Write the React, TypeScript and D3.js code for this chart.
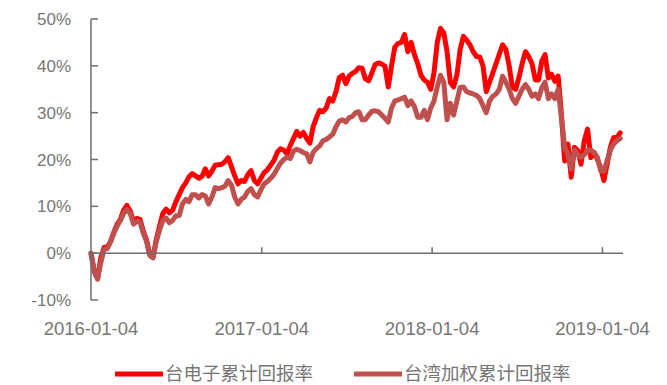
import React from "react";
import * as d3 from "d3";

const startDate = "2016-01-04";
const endDate = "2019-02-17";
const tickDates = ["2016-01-04", "2017-01-04", "2018-01-04", "2019-01-04"];
const yTicks = [-10, 0, 10, 20, 30, 40, 50];
const seriesNames = ["台电子累计回报率", "台湾加权累计回报率"];

// weekly cumulative returns (%)
const electronics = [
  0, -3.8, -5.5, -1.0, 1.2, 1.3, 2.5, 4.5, 6.2, 7.2, 9.2, 10.2, 9.0, 6.8, 7.4, 7.2, 4.7, 2.8, -0.3, -0.8,
  3.0, 5.8, 8.5, 9.4, 8.6, 9.2, 11.0, 12.5, 14.0, 15.0, 16.3, 17.0, 16.5, 16.0, 16.4, 18.0, 16.5, 17.5, 18.8, 18.9,
  19.0, 19.5, 20.4, 18.5, 16.5, 14.8, 15.5, 15.3, 16.8, 17.6, 15.5, 14.8, 16.0, 17.2, 17.8, 18.8, 19.8, 21.5, 22.3, 22.0,
  21.2, 23.0, 24.5, 26.0, 25.0, 25.8, 24.5, 23.5, 27.0, 28.9, 30.5, 30.2, 31.0, 33.0, 32.5, 34.5, 37.5, 38.0, 36.2, 37.8,
  38.4, 38.8, 39.6, 39.5, 37.2, 36.8, 38.5, 40.3, 40.6, 40.4, 39.9, 35.5, 40.0, 44.0, 44.8, 45.0, 46.7, 43.0, 45.0, 42.4,
  40.5, 38.0, 37.0, 36.5, 35.0, 38.5, 45.0, 48.0, 47.0, 43.0, 36.5, 35.5, 38.0, 43.5, 46.3, 45.5, 44.5, 43.0, 42.0, 41.9,
  40.0, 34.5, 36.5, 38.5, 40.5, 42.5, 44.5, 43.5, 40.0, 35.4, 35.0, 37.5, 40.5, 43.0, 42.0, 40.5, 37.0, 37.0, 41.0, 42.4,
  37.4, 38.2, 36.7, 37.8, 29.7, 19.7, 23.3, 16.2, 22.6, 21.9, 19.0, 24.0, 26.5, 20.4, 21.5, 20.1, 18.3, 15.5, 19.0, 22.6,
  24.7, 24.7, 25.7,
];

const taiex = [
  0, -4.0, -5.5, -2.0, 0.8, 1.0, 2.5, 4.3, 5.8, 7.0, 8.5, 9.3, 8.5, 6.2, 6.8, 6.6, 4.3, 2.5, -0.5, -1.0,
  2.5, 5.0, 7.0, 7.5, 6.5, 7.0, 8.0, 8.0, 10.5, 11.5, 11.0, 12.5, 12.5, 11.8, 12.5, 12.2, 10.5, 12.0, 14.0, 13.8,
  14.0, 14.3, 15.5, 14.5, 12.0, 10.5, 11.5, 12.0, 13.2, 13.8, 12.5, 12.0, 13.5, 14.8, 15.3, 16.0, 16.8, 18.0, 19.2, 20.0,
  20.5, 20.2, 21.8, 22.2, 21.9, 21.5, 21.2, 19.5, 21.5, 22.3, 22.9, 24.0, 24.3, 24.8, 25.4, 27.0, 28.2, 28.5, 28.0, 28.9,
  29.2, 30.0, 30.2, 28.5, 28.5, 29.5, 30.3, 30.4, 30.2, 29.5, 28.8, 28.0, 31.0, 32.5, 32.7, 33.0, 33.3, 31.5, 32.5, 31.3,
  29.0, 29.0, 30.5, 28.5, 31.0, 32.5, 35.5, 38.0, 36.5, 28.5, 32.0, 29.5, 32.5, 35.4, 35.5, 34.5, 34.2, 34.0, 33.7, 33.0,
  31.5, 30.0, 32.5, 33.5, 34.0, 35.0, 37.8, 36.5, 35.0, 33.0, 32.0, 33.5, 35.0, 36.0, 35.0, 33.5, 34.0, 33.0, 35.3, 36.5,
  33.0, 34.0, 33.0, 35.0, 29.0, 22.6, 21.1, 18.0, 22.0, 21.0, 20.5, 21.0, 22.0, 22.0, 21.5, 20.5, 17.6, 17.5, 19.8, 22.0,
  23.3, 24.0, 24.5,
];

const parse = d3.timeParse("%Y-%m-%d");
const fmt = d3.timeFormat("%Y-%m-%d");

export default function App() {
  const W = 667, H = 385;
  const start = parse(startDate) as Date;
  const x = d3.scaleTime().domain([start, parse(endDate) as Date]).range([91, 623]);
  const y = d3.scaleLinear().domain([-10, 50]).range([300, 19]);

  const dates = electronics.map((_, i) => d3.timeDay.offset(start, 7 * i));
  const line = d3
    .line<number>()
    .x((_, i) => x(dates[i]))
    .y((d) => y(d))
    .curve(d3.curveLinear);

  const axisColor = "#6e6e6e";
  const textColor = "#767676";
  const font = "'Liberation Sans', Arial, 'Noto Sans CJK SC', sans-serif";
  const series = [
    { name: seriesNames[0], data: electronics, color: "#ff0000", lx: 115, tx: 165 },
    { name: seriesNames[1], data: taiex, color: "#c0504d", lx: 354, tx: 404 },
  ];

  return (
    <svg
      width={W}
      height={H}
      style={{ position: "absolute", left: 0, top: 0, background: "#fff" }}
      fontFamily={font}
    >
      {/* lines */}
      {series.map((s) => (
        <path
          key={s.name}
          d={line(s.data) || ""}
          fill="none"
          stroke={s.color}
          strokeWidth={5}
          strokeLinejoin="round"
          strokeLinecap="round"
        />
      ))}

      {/* y axis */}
      <line x1={91} x2={91} y1={y(50)} y2={y(-10)} stroke={axisColor} strokeWidth={1.5} />
      {yTicks.map((t) => (
        <g key={t}>
          <line x1={91} x2={98} y1={y(t)} y2={y(t)} stroke={axisColor} strokeWidth={1.5} />
          <text x={71} y={y(t)} dy="0.36em" textAnchor="end" fontSize={17} fill={textColor}>
            {t}%
          </text>
        </g>
      ))}

      {/* x axis at 0 */}
      <line x1={91} x2={623} y1={y(0)} y2={y(0)} stroke={axisColor} strokeWidth={1.5} />
      {tickDates.map((d) => {
        const xd = x(parse(d) as Date);
        return (
          <g key={d}>
            {d !== tickDates[0] && (
              <line x1={xd} x2={xd} y1={y(0)} y2={y(0) - 6} stroke={axisColor} strokeWidth={1.5} />
            )}
            <text x={xd} y={335} textAnchor="middle" fontSize={18.5} fill={textColor}>
              {fmt(parse(d) as Date)}
            </text>
          </g>
        );
      })}

      {/* legend */}
      {series.map((s) => (
        <g key={"lg" + s.name}>
          <line x1={s.lx} x2={s.lx + 48} y1={374} y2={374} stroke={s.color} strokeWidth={5} />
          <text x={s.tx} y={380} fontSize={18.5} fill={textColor}>
            {s.name}
          </text>
        </g>
      ))}
    </svg>
  );
}
